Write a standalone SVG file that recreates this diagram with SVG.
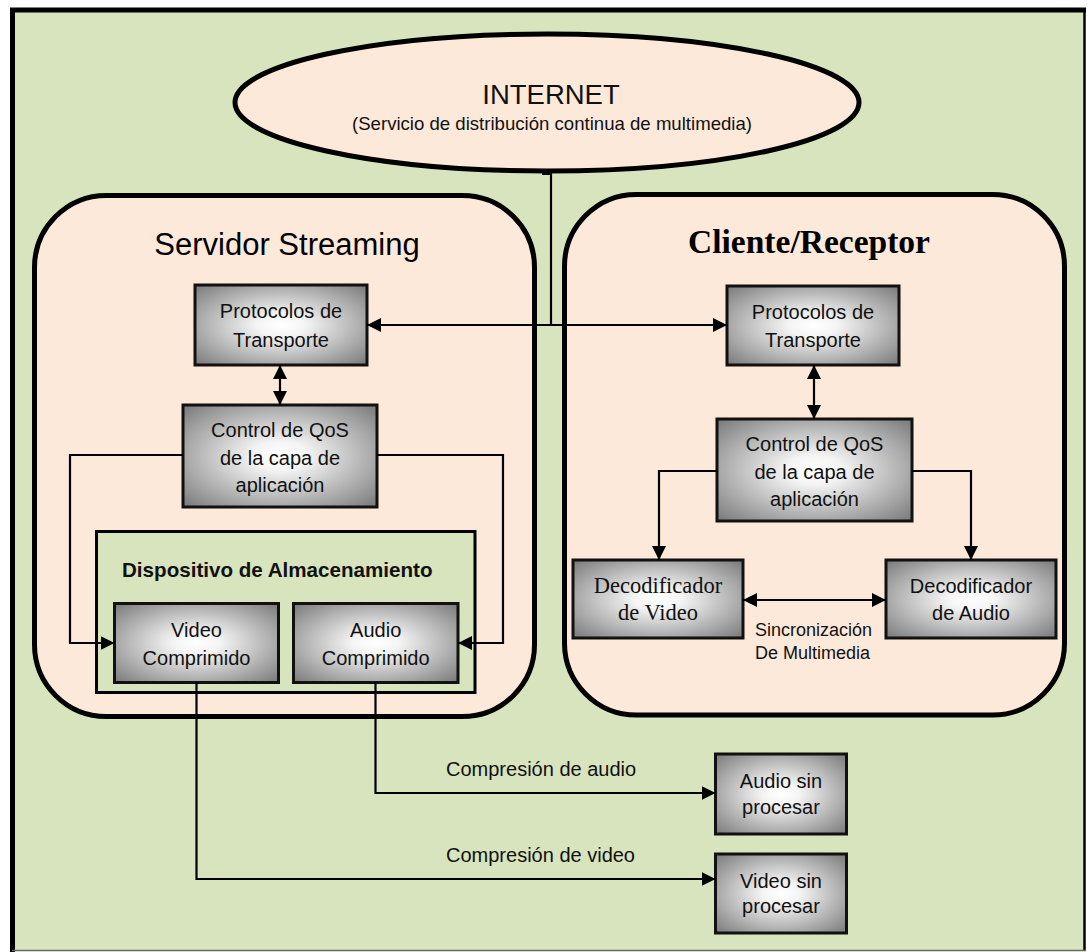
<svg xmlns="http://www.w3.org/2000/svg" width="1087" height="952" viewBox="0 0 1087 952">
  <style>
    .bg { fill: #D7E4BD; }
    .peach { fill: #FDE9D9; stroke: #000; stroke-width: 5; }
    .store { fill: #D7E4BD; stroke: #000; stroke-width: 3; }
    .box { fill: url(#metal); stroke: #111; stroke-width: 3; }
    .lbl { font-family: "Liberation Sans", Arial, sans-serif; font-size: 20px; fill: #111; text-anchor: middle; }
    .serif { font-family: "Liberation Serif", "Times New Roman", serif; font-size: 22.5px; fill: #111; text-anchor: middle; }
    .note { font-family: "Liberation Sans", Arial, sans-serif; font-size: 18px; fill: #111; }
    .wire { fill: none; stroke: #000; stroke-width: 2.2; }
    .arr2 { marker-start: url(#ah); marker-end: url(#ah); }
    .arr1 { marker-end: url(#ah); }
  </style>
  <defs>
    <radialGradient id="metal" cx="0.5" cy="0.5" r="0.71">
      <stop offset="0" stop-color="#ffffff"/>
      <stop offset="0.2" stop-color="#f4f4f4"/>
      <stop offset="1" stop-color="#777777"/>
    </radialGradient>
    <marker id="ah" viewBox="0 0 14 14" markerWidth="14" markerHeight="14" markerUnits="userSpaceOnUse" refX="14" refY="7" orient="auto-start-reverse">
      <path d="M0,0 L14,7 L0,14 z" fill="#000"/>
    </marker>
  </defs>

  <!-- page frame -->
  <g id="frame">
    <rect x="12" y="10" width="1072" height="940" class="bg"/>
    <line x1="10" y1="10" x2="1086" y2="10" stroke="#000" stroke-width="5"/>
    <line x1="12.5" y1="8" x2="12.5" y2="952" stroke="#000" stroke-width="5"/>
    <line x1="1084.5" y1="8" x2="1084.5" y2="951" stroke="#000" stroke-width="2.5"/>
    <line x1="12" y1="950.5" x2="1086" y2="950.5" stroke="#666" stroke-width="1.5"/>
  </g>

  <!-- Internet cloud -->
  <g id="internet">
    <ellipse cx="547" cy="102.5" rx="312" ry="68.5" class="peach"/>
    <text x="551" y="104" font-family="Liberation Sans, Arial, sans-serif" font-size="27.5" fill="#111" text-anchor="middle">INTERNET</text>
    <text x="552" y="130" font-family="Liberation Sans, Arial, sans-serif" font-size="18.6" fill="#111" text-anchor="middle">(Servicio de distribución continua de multimedia)</text>
  </g>

  <!-- Streaming server -->
  <g id="servidor">
    <rect x="34.5" y="195.5" width="500" height="521" rx="72" ry="72" class="peach"/>
    <text x="287" y="255" font-family="Liberation Sans, Arial, sans-serif" font-size="31" fill="#000" text-anchor="middle">Servidor Streaming</text>
  </g>

  <!-- Client / receiver -->
  <g id="cliente">
    <rect x="564.5" y="194.5" width="500" height="520.5" rx="72" ry="72" class="peach"/>
    <text x="809" y="253" font-family="Liberation Serif, Times New Roman, serif" font-size="33.5" font-weight="bold" fill="#000" text-anchor="middle">Cliente/Receptor</text>
  </g>

  <!-- Storage device -->
  <g id="almacenamiento">
    <rect x="96.5" y="531.5" width="378.5" height="161" class="store"/>
    <text x="122" y="577" font-family="Liberation Sans, Arial, sans-serif" font-size="20.6" font-weight="bold" fill="#111">Dispositivo de Almacenamiento</text>
  </g>

  <g id="srv-protocolos">
    <rect x="195" y="285" width="172" height="80" class="box"/>
    <text x="281" y="318" class="lbl">Protocolos de</text>
    <text x="281" y="347" class="lbl">Transporte</text>
  </g>

  <g id="srv-qos">
    <rect x="183" y="405" width="194" height="102" class="box"/>
    <text x="280" y="437" class="lbl">Control de QoS</text>
    <text x="280" y="465" class="lbl">de la capa de</text>
    <text x="280" y="492" class="lbl">aplicación</text>
  </g>

  <g id="video-comprimido">
    <rect x="114.5" y="603.5" width="164" height="79" class="box"/>
    <text x="196.5" y="637" class="lbl">Video</text>
    <text x="196.5" y="665" class="lbl">Comprimido</text>
  </g>

  <g id="audio-comprimido">
    <rect x="293.5" y="603.5" width="164.5" height="79" class="box"/>
    <text x="375.7" y="637" class="lbl">Audio</text>
    <text x="375.7" y="665" class="lbl">Comprimido</text>
  </g>

  <g id="cli-protocolos">
    <rect x="727" y="286" width="172" height="79" class="box"/>
    <text x="813" y="319" class="lbl">Protocolos de</text>
    <text x="813" y="347" class="lbl">Transporte</text>
  </g>

  <g id="cli-qos">
    <rect x="717" y="419" width="195" height="102" class="box"/>
    <text x="814.5" y="451" class="lbl">Control de QoS</text>
    <text x="814.5" y="479" class="lbl">de la capa de</text>
    <text x="814.5" y="506" class="lbl">aplicación</text>
  </g>

  <g id="decod-video">
    <rect x="573" y="560" width="170" height="78" class="box"/>
    <text x="658" y="593" class="serif">Decodificador</text>
    <text x="658" y="620" class="serif">de Video</text>
  </g>

  <g id="decod-audio">
    <rect x="886" y="560" width="170" height="78" class="box"/>
    <text x="971" y="593" class="lbl">Decodificador</text>
    <text x="971" y="620" class="lbl">de Audio</text>
  </g>

  <g id="audio-raw">
    <rect x="715.5" y="754" width="131" height="80" class="box"/>
    <text x="781" y="788" class="lbl">Audio sin</text>
    <text x="781" y="814" class="lbl">procesar</text>
  </g>

  <g id="video-raw">
    <rect x="715.5" y="854" width="131" height="79" class="box"/>
    <text x="781" y="888" class="lbl">Video sin</text>
    <text x="781" y="913" class="lbl">procesar</text>
  </g>

  <!-- connectors -->
  <g id="connectors">
    <rect x="542" y="171.5" width="10" height="3.5" fill="#000"/>
    <path d="M551,172 V325" class="wire" stroke-width="3"/>
    <path d="M367,325 H727" class="wire arr2"/>
    <path d="M280,365 V405" class="wire arr2" stroke-width="2.6"/>
    <path d="M183,455 H70 V643 H114.5" class="wire arr1"/>
    <path d="M377,455 H503 V643 H458" class="wire arr1"/>
    <path d="M814,365 V419" class="wire arr2" stroke-width="2.6"/>
    <path d="M717,471 H659 V560" class="wire arr1"/>
    <path d="M912,471 H971 V560" class="wire arr1"/>
    <path d="M743,600 H886" class="wire arr2"/>
    <path d="M375.5,682.5 V793 H715.5" class="wire arr1"/>
    <path d="M196.5,682.5 V879 H715.5" class="wire arr1"/>
  </g>

  <!-- connector labels -->
  <g id="labels">
    <text x="755" y="636" class="note">Sincronización</text>
    <text x="755" y="659" class="note">De Multimedia</text>
    <text x="446" y="776" class="lbl" text-anchor="start" style="text-anchor:start">Compresión de audio</text>
    <text x="446" y="862" class="lbl" style="text-anchor:start">Compresión de video</text>
  </g>
</svg>
